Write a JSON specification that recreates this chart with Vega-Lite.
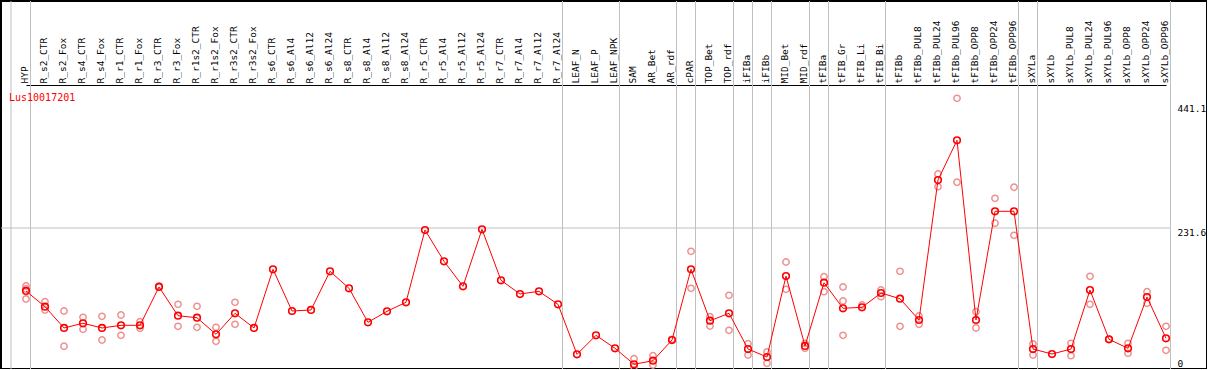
{
  "$schema": "https://vega.github.io/schema/vega-lite/v6.json",
  "width": 1206,
  "height": 368,
  "autosize": {"type": "none"},
  "padding": {"left": 1, "top": 1, "right": 0, "bottom": 0},
  "background": "white",
  "config": {
    "view": {"stroke": "black", "strokeWidth": 2},
    "font": "DejaVu Sans Mono"
  },
  "title": {
    "text": "Lus10017201",
    "anchor": "start",
    "frame": "group",
    "orient": "top",
    "offset": -102,
    "baseline": "top",
    "dx": 8,
    "color": "#ff0000",
    "font": "DejaVu Sans Mono",
    "fontSize": 10,
    "fontWeight": "normal"
  },
  "datasets": {
    "means": [
      {"sample": "HYP", "value": 125.9},
      {"sample": "R_s2_CTR", "value": 99.5},
      {"sample": "R_s2_Fox", "value": 63.8},
      {"sample": "R_s4_CTR", "value": 71.7},
      {"sample": "R_s4_Fox", "value": 63.8},
      {"sample": "R_r1_CTR", "value": 68.3},
      {"sample": "R_r1_Fox", "value": 68.3},
      {"sample": "R_r3_CTR", "value": 132.6},
      {"sample": "R_r3_Fox", "value": 84.4},
      {"sample": "R_r1s2_CTR", "value": 81.0},
      {"sample": "R_r1s2_Fox", "value": 53.2},
      {"sample": "R_r3s2_CTR", "value": 88.4},
      {"sample": "R_r3s2_Fox", "value": 63.8},
      {"sample": "R_s6_CTR", "value": 162.3},
      {"sample": "R_s6_Al4", "value": 92.3},
      {"sample": "R_s6_Al12", "value": 94.0},
      {"sample": "R_s6_Al24", "value": 158.9},
      {"sample": "R_s8_CTR", "value": 130.4},
      {"sample": "R_s8_Al4", "value": 73.3},
      {"sample": "R_s8_Al12", "value": 91.8},
      {"sample": "R_s8_Al24", "value": 106.9},
      {"sample": "R_r5_CTR", "value": 228.2},
      {"sample": "R_r5_Al4", "value": 175.7},
      {"sample": "R_r5_Al12", "value": 133.7},
      {"sample": "R_r5_Al24", "value": 229.4},
      {"sample": "R_r7_CTR", "value": 143.8},
      {"sample": "R_r7_Al4", "value": 120.8},
      {"sample": "R_r7_Al12", "value": 125.3},
      {"sample": "R_r7_Al24", "value": 103.5},
      {"sample": "LEAF_N", "value": 19.6},
      {"sample": "LEAF_P", "value": 51.5},
      {"sample": "LEAF_NPK", "value": 29.7},
      {"sample": "SAM", "value": 2.9},
      {"sample": "AR_Bet", "value": 8.9},
      {"sample": "AR_rdf", "value": 43.6},
      {"sample": "cPAR", "value": 162.3},
      {"sample": "TOP_Bet", "value": 76.0},
      {"sample": "TOP_rdf", "value": 88.4},
      {"sample": "iFIBa", "value": 28.5},
      {"sample": "iFIBb", "value": 15.1},
      {"sample": "MID_Bet", "value": 151.0},
      {"sample": "MID_rdf", "value": 33.6},
      {"sample": "tFIBa", "value": 139.8},
      {"sample": "tFIB_Gr", "value": 96.8},
      {"sample": "tFIB_Li", "value": 98.5},
      {"sample": "tFIB_Bi", "value": 122.5},
      {"sample": "tFIBb", "value": 112.9},
      {"sample": "tFIBb_PUL8", "value": 77.2},
      {"sample": "tFIBb_PUL24", "value": 312.1},
      {"sample": "tFIBb_PUL96", "value": 378.7},
      {"sample": "tFIBb_OPP8", "value": 77.2},
      {"sample": "tFIBb_OPP24", "value": 259.6},
      {"sample": "tFIBb_OPP96", "value": 259.6},
      {"sample": "sXYLa", "value": 28.5},
      {"sample": "sXYLb", "value": 20.1},
      {"sample": "sXYLb_PUL8", "value": 28.5},
      {"sample": "sXYLb_PUL24", "value": 127.5},
      {"sample": "sXYLb_PUL96", "value": 44.8},
      {"sample": "sXYLb_OPP8", "value": 29.7},
      {"sample": "sXYLb_OPP24", "value": 115.8},
      {"sample": "sXYLb_OPP96", "value": 46.5}
    ],
    "reps": [
      {"sample": "HYP", "value": 134.2},
      {"sample": "HYP", "value": 129.2},
      {"sample": "HYP", "value": 112.4},
      {"sample": "R_s2_CTR", "value": 107.9},
      {"sample": "R_s2_CTR", "value": 94.0},
      {"sample": "R_s2_Fox", "value": 92.3},
      {"sample": "R_s2_Fox", "value": 33.1},
      {"sample": "R_s4_CTR", "value": 81.7},
      {"sample": "R_s4_CTR", "value": 61.6},
      {"sample": "R_s4_Fox", "value": 83.4},
      {"sample": "R_s4_Fox", "value": 43.6},
      {"sample": "R_r1_CTR", "value": 85.6},
      {"sample": "R_r1_CTR", "value": 51.5},
      {"sample": "R_r1_Fox", "value": 74.3},
      {"sample": "R_r1_Fox", "value": 63.3},
      {"sample": "R_r3_CTR", "value": 134.2},
      {"sample": "R_r3_Fox", "value": 103.5},
      {"sample": "R_r3_Fox", "value": 66.6},
      {"sample": "R_r1s2_CTR", "value": 100.2},
      {"sample": "R_r1s2_CTR", "value": 64.9},
      {"sample": "R_r1s2_Fox", "value": 64.9},
      {"sample": "R_r1s2_Fox", "value": 41.4},
      {"sample": "R_r3s2_CTR", "value": 106.9},
      {"sample": "R_r3s2_CTR", "value": 70.0},
      {"sample": "SAM", "value": 12.2},
      {"sample": "SAM", "value": -1.5},
      {"sample": "AR_Bet", "value": 17.3},
      {"sample": "AR_Bet", "value": 1.7},
      {"sample": "AR_rdf", "value": 44.8},
      {"sample": "cPAR", "value": 192.5},
      {"sample": "cPAR", "value": 130.4},
      {"sample": "TOP_Bet", "value": 82.7},
      {"sample": "TOP_Bet", "value": 67.1},
      {"sample": "TOP_rdf", "value": 118.6},
      {"sample": "TOP_rdf", "value": 59.9},
      {"sample": "iFIBa", "value": 37.4},
      {"sample": "iFIBa", "value": 18.5},
      {"sample": "iFIBb", "value": 23.5},
      {"sample": "iFIBb", "value": 4.5},
      {"sample": "MID_Bet", "value": 174.5},
      {"sample": "MID_Bet", "value": 128.7},
      {"sample": "MID_rdf", "value": 38.1},
      {"sample": "MID_rdf", "value": 29.7},
      {"sample": "tFIBa", "value": 149.8},
      {"sample": "tFIBa", "value": 124.7},
      {"sample": "tFIB_Gr", "value": 132.6},
      {"sample": "tFIB_Gr", "value": 109.1},
      {"sample": "tFIB_Gr", "value": 51.5},
      {"sample": "tFIB_Li", "value": 102.4},
      {"sample": "tFIB_Bi", "value": 127.5},
      {"sample": "tFIB_Bi", "value": 116.3},
      {"sample": "tFIBb", "value": 158.9},
      {"sample": "tFIBb", "value": 66.6},
      {"sample": "tFIBb_PUL8", "value": 83.9},
      {"sample": "tFIBb_PUL8", "value": 70.0},
      {"sample": "tFIBb_PUL24", "value": 322.2},
      {"sample": "tFIBb_PUL24", "value": 300.9},
      {"sample": "tFIBb_PUL96", "value": 449.2},
      {"sample": "tFIBb_PUL96", "value": 308.3},
      {"sample": "tFIBb_OPP8", "value": 91.1},
      {"sample": "tFIBb_OPP8", "value": 63.8},
      {"sample": "tFIBb_OPP24", "value": 281.4},
      {"sample": "tFIBb_OPP24", "value": 239.5},
      {"sample": "tFIBb_OPP96", "value": 299.9},
      {"sample": "tFIBb_OPP96", "value": 219.3},
      {"sample": "sXYLa", "value": 36.9},
      {"sample": "sXYLa", "value": 18.5},
      {"sample": "sXYLb_PUL8", "value": 38.1},
      {"sample": "sXYLb_PUL8", "value": 17.3},
      {"sample": "sXYLb_PUL24", "value": 150.5},
      {"sample": "sXYLb_PUL24", "value": 103.5},
      {"sample": "sXYLb_PUL96", "value": 44.8},
      {"sample": "sXYLb_OPP8", "value": 38.1},
      {"sample": "sXYLb_OPP8", "value": 21.3},
      {"sample": "sXYLb_OPP24", "value": 124.7},
      {"sample": "sXYLb_OPP24", "value": 105.2},
      {"sample": "sXYLb_OPP96", "value": 66.6},
      {"sample": "sXYLb_OPP96", "value": 26.3}
    ],
    "seps": [
      {"sample": "HYP"},
      {"sample": "R_r7_Al24"},
      {"sample": "LEAF_NPK"},
      {"sample": "AR_rdf"},
      {"sample": "cPAR"},
      {"sample": "TOP_rdf"},
      {"sample": "iFIBa"},
      {"sample": "iFIBb"},
      {"sample": "MID_rdf"},
      {"sample": "tFIBa"},
      {"sample": "tFIB_Bi"},
      {"sample": "tFIBb_OPP96"},
      {"sample": "sXYLa"},
      {"sample": "sXYLb_OPP96"}
    ],
    "first": [{"sample": "HYP"}],
    "grid": [{"from": "HYP", "to": "sXYLb_OPP96", "value": 231.6}]
  },
  "encoding": {
    "x": {
      "field": "sample",
      "type": "ordinal",
      "sort": null,
      "scale": {
        "type": "point",
        "padding": 0,
        "range": [25, 1165],
        "domain": ["HYP", "R_s2_CTR", "R_s2_Fox", "R_s4_CTR", "R_s4_Fox", "R_r1_CTR", "R_r1_Fox", "R_r3_CTR", "R_r3_Fox", "R_r1s2_CTR", "R_r1s2_Fox", "R_r3s2_CTR", "R_r3s2_Fox", "R_s6_CTR", "R_s6_Al4", "R_s6_Al12", "R_s6_Al24", "R_s8_CTR", "R_s8_Al4", "R_s8_Al12", "R_s8_Al24", "R_r5_CTR", "R_r5_Al4", "R_r5_Al12", "R_r5_Al24", "R_r7_CTR", "R_r7_Al4", "R_r7_Al12", "R_r7_Al24", "LEAF_N", "LEAF_P", "LEAF_NPK", "SAM", "AR_Bet", "AR_rdf", "cPAR", "TOP_Bet", "TOP_rdf", "iFIBa", "iFIBb", "MID_Bet", "MID_rdf", "tFIBa", "tFIB_Gr", "tFIB_Li", "tFIB_Bi", "tFIBb", "tFIBb_PUL8", "tFIBb_PUL24", "tFIBb_PUL96", "tFIBb_OPP8", "tFIBb_OPP24", "tFIBb_OPP96", "sXYLa", "sXYLb", "sXYLb_PUL8", "sXYLb_PUL24", "sXYLb_PUL96", "sXYLb_OPP8", "sXYLb_OPP24", "sXYLb_OPP96"]
      },
      "axis": {
        "orient": "top",
        "offset": -84,
        "title": null,
        "labelAngle": -90,
        "labelPadding": 2,
        "labelOffset": -2,
        "ticks": false,
        "grid": false,
        "domainColor": "black",
        "domainWidth": 1,
        "labelFont": "DejaVu Sans Mono",
        "labelFontSize": 9.5,
        "labelColor": "black",
        "labelOverlap": false,
        "labelBound": false
      }
    }
  },
  "layer": [
    {
      "data": {"name": "seps"},
      "mark": {"type": "rule", "color": "#c0c0c0", "strokeWidth": 1, "xOffset": 4.5},
      "encoding": {}
    },
    {
      "data": {"name": "first"},
      "mark": {"type": "rule", "color": "#c0c0c0", "strokeWidth": 1, "xOffset": -15},
      "encoding": {}
    },
    {
      "data": {"name": "grid"},
      "mark": {"type": "rule", "color": "#c0c0c0", "strokeWidth": 1, "xOffset": -25, "x2Offset": 5},
      "encoding": {
        "x": {"field": "from", "type": "ordinal"},
        "x2": {"field": "to"},
        "y": {"field": "value", "type": "quantitative"}
      }
    },
    {
      "data": {"name": "reps"},
      "mark": {"type": "point", "shape": "circle", "filled": false, "color": "#ee9090", "strokeWidth": 1.5, "size": 40, "opacity": 1},
      "encoding": {
        "y": {"field": "value", "type": "quantitative"}
      }
    },
    {
      "data": {"name": "means"},
      "mark": {"type": "line", "color": "#ff0000", "strokeWidth": 1},
      "encoding": {
        "y": {"field": "value", "type": "quantitative"}
      }
    },
    {
      "data": {"name": "means"},
      "mark": {"type": "point", "shape": "circle", "filled": false, "color": "#ff0000", "strokeWidth": 1.6, "size": 44, "opacity": 1},
      "encoding": {
        "y": {
          "field": "value",
          "type": "quantitative",
          "scale": {"domain": [-5.03, 612.5], "nice": false, "zero": false},
          "axis": {
            "orient": "right",
            "offset": -36,
            "title": null,
            "values": [0, 231.6, 441.1],
            "labelExpr": "datum.value == 0 ? '0' : format(datum.value, '.1f')",
            "domain": false,
            "ticks": false,
            "grid": false,
            "labelPadding": 6,
            "labelFont": "DejaVu Sans Mono",
            "labelFontSize": 9.5,
            "labelColor": "black",
            "labelBaseline": {"condition": {"test": "datum.value == 0", "value": "alphabetic"}, "value": "top"},
            "labelBound": false,
            "labelOverlap": false,
            "labelFlush": false
          }
        }
      }
    }
  ]
}
